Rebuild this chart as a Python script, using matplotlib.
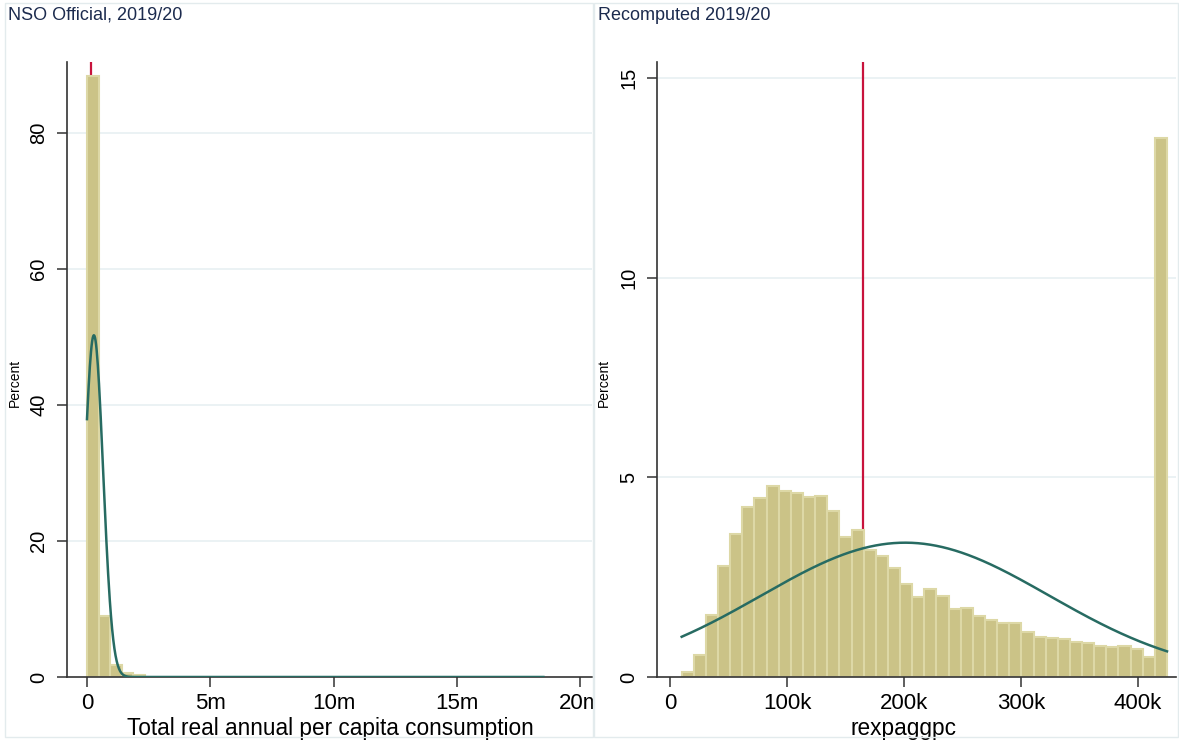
import numpy as np
import matplotlib
matplotlib.use("Agg")
import matplotlib.pyplot as plt
from matplotlib.patches import Rectangle
from matplotlib.transforms import Bbox, TransformedBbox

plt.rcParams['font.family'] = ['Liberation Sans', 'DejaVu Sans']

# ---------------- data ----------------
poverty_line = 164700

# Left panel: NSO Official, 2019/20
left_bin_start = 0.0
left_bin_width = 470000.0
left_pct = [88.4, 9.0, 1.8, 0.55, 0.25]
left_mean = 280000.0
left_sd = 373000.0
left_min, left_max = 0.0, 18.5e6
left_xticks = [0, 5e6, 10e6, 15e6, 20e6]
left_xticklabels = ['0', '5m', '10m', '15m', '20m']
left_yticks = [0, 20, 40, 60, 80]

# Right panel: Recomputed 2019/20
right_bin_start = 10000.0
right_bin_width = 10370.0
right_pct = [0.13, 0.55, 1.55, 2.78, 3.58, 4.25, 4.47, 4.78, 4.66, 4.60,
             4.50, 4.53, 4.16, 3.50, 3.68, 3.18, 3.03, 2.72, 2.32, 2.00,
             2.20, 2.02, 1.70, 1.74, 1.54, 1.42, 1.34, 1.34, 1.12, 1.00,
             0.98, 0.94, 0.88, 0.84, 0.78, 0.75, 0.78, 0.69, 0.49, 13.5]
right_mean = 201000.0
right_sd = 123000.0
right_xticks = [0, 100000, 200000, 300000, 400000]
right_xticklabels = ['0', '100k', '200k', '300k', '400k']
right_yticks = [0, 5, 10, 15]

titles = ['NSO Official, 2019/20', 'Recomputed 2019/20']
xlabels = ['Total real annual per capita consumption', 'rexpaggpc']

# ---------------- style ----------------
W, H = 1179, 740
BAR_FC = '#cbc387'
BAR_EC = '#ddd8a6'
CURVE = '#276b62'
RED = '#c8133c'
GRID = '#e8f0f2'
TITLE_C = '#1c2b4e'
BORDER = '#e3ebed'
AX_C = '#333333'

fig = plt.figure(figsize=(W / 100, H / 100), dpi=100)

def fx(px):
    return px / W

def fy(py):
    return (H - py) / H

# panel borders
for x0, x1 in [(5, 593), (594, 1178)]:
    fig.patches.append(Rectangle((fx(x0), fy(737)), fx(x1) - fx(x0), fy(3) - fy(737),
                                 transform=fig.transFigure, fill=False,
                                 edgecolor=BORDER, linewidth=1.0, zorder=0))

axL = fig.add_axes([fx(67), fy(677), fx(592) - fx(67), fy(62) - fy(677)])
axR = fig.add_axes([fx(657), fy(677), fx(1176) - fx(657), fy(62) - fy(677)])


def draw_panel(ax, start, width, pct, mean, sd, xmin, xmax, ylim, xlim,
               xticks, xticklabels, yticks):
    pct = np.asarray(pct)
    lefts = start + width * np.arange(len(pct))
    ax.axvline(poverty_line, color=RED, lw=1.6, zorder=1)
    ax.bar(lefts, pct, width=width, align='edge', color=BAR_FC,
           edgecolor=BAR_EC, linewidth=1.5, zorder=2)
    xs = np.linspace(xmin, xmax, 800)
    dens = 100 * width * np.exp(-0.5 * ((xs - mean) / sd) ** 2) / (sd * np.sqrt(2 * np.pi))
    ax.plot(xs, dens, color=CURVE, lw=1.8, zorder=3)
    ax.set_xlim(*xlim)
    ax.set_ylim(*ylim)
    ax.set_xticks(xticks)
    ax.set_xticklabels(xticklabels)
    ax.set_yticks(yticks)
    for y in yticks[1:]:
        ax.axhline(y, color=GRID, lw=1.2, zorder=0)
    for s in ['top', 'right']:
        ax.spines[s].set_visible(False)
    for s in ['left', 'bottom']:
        ax.spines[s].set_color(AX_C)
        ax.spines[s].set_linewidth(1.2)
    ax.tick_params(axis='both', direction='out', length=7.5, width=1.1,
                   color=AX_C, labelcolor='black')
    ax.tick_params(axis='x', labelsize=16, pad=4)
    ax.tick_params(axis='y', labelsize=14.5, pad=6, labelrotation=90)
    for lab in ax.get_yticklabels():
        lab.set_verticalalignment('center')
    ax.set_ylabel('Percent', fontsize=10)


draw_panel(axL, left_bin_start, left_bin_width, left_pct, left_mean, left_sd,
           left_min, left_max, (0, 90.45), (-0.81e6, 20.47e6),
           left_xticks, left_xticklabels, left_yticks)
draw_panel(axR, right_bin_start, right_bin_width, right_pct, right_mean, right_sd,
           right_bin_start, right_bin_start + right_bin_width * len(right_pct),
           (0, 15.4), (-11100, 432500),
           right_xticks, right_xticklabels, right_yticks)

axL.set_xlabel(xlabels[0], fontsize=16.3)
axR.set_xlabel(xlabels[1], fontsize=16.3)
axL.xaxis.set_label_coords(fx(330), fy(717), transform=fig.transFigure)
axR.xaxis.set_label_coords(fx(904), fy(717), transform=fig.transFigure)
axL.yaxis.set_label_coords(fx(22), fy(383), transform=fig.transFigure)
axR.yaxis.set_label_coords(fx(611), fy(383), transform=fig.transFigure)

# clip the left panel's last tick label at its panel border
clipbox = TransformedBbox(Bbox([[0, 0], [fx(593), 1]]), fig.transFigure)
for lab in axL.get_xticklabels():
    lab.set_clip_box(clipbox)
    lab.set_clip_on(True)

fig.text(fx(8), fy(15), titles[0], fontsize=13, color=TITLE_C, ha='left', va='center')
fig.text(fx(598), fy(15), titles[1], fontsize=13, color=TITLE_C, ha='left', va='center')

fig.savefig('out.png', dpi=100)
